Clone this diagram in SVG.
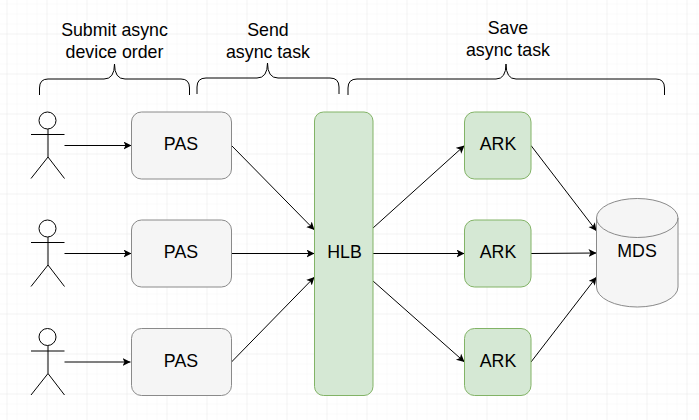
<svg xmlns="http://www.w3.org/2000/svg" width="699" height="420" viewBox="0 0 699 420">
<defs>
<pattern id="minor" width="10" height="10" patternUnits="userSpaceOnUse" x="6.5" y="3.5"><path d="M10 0H0V10" fill="none" stroke="#f6f6f6"/></pattern>
<pattern id="major" width="40" height="40" patternUnits="userSpaceOnUse" x="6.5" y="-6.5"><path d="M40 0H0V40" fill="none" stroke="#ebebeb"/></pattern>
<marker id="arr" markerWidth="10" markerHeight="10" refX="8" refY="4" orient="auto" markerUnits="userSpaceOnUse"><path d="M0 0L8 4L0 8L2 4Z" fill="#000"/></marker>
<g id="actor" fill="none" stroke="#000"><circle cx="47.5" cy="120.5" r="8.500" fill="#fff"/><path d="M48 129V157M31 134.500H64.500M31 178.500L48 157L64.500 178.500"/></g>
</defs>
<style>
.pas{fill:#f5f5f5;stroke:#8a8a8a;stroke-width:1}
.grn{fill:#d5e8d4;stroke:#82b366;stroke-width:1}
.c{fill:none;stroke:#000;stroke-width:1;marker-end:url(#arr)}
.b{fill:none;stroke:#000;stroke-width:1}
text{font-family:"Liberation Sans",Arial,sans-serif;font-size:17.800px;fill:#000;text-anchor:middle}
</style>
<rect width="699" height="420" fill="#fff"/>
<rect width="699" height="420" fill="url(#minor)"/>
<rect width="699" height="420" fill="url(#major)"/>
<g id="connectors">
<path class="c" d="M64.500 145.500H131.500"/>
<path class="c" d="M64.500 253.500H131.500"/>
<path class="c" d="M64.500 362H130.500"/>
<path class="c" d="M231.500 145.500L314.500 230"/>
<path class="c" d="M231.500 253.500H314.500"/>
<path class="c" d="M231.500 362L314.500 277"/>
<path class="c" d="M373 228L464.500 145.500"/>
<path class="c" d="M373 253.500H464.500"/>
<path class="c" d="M373 281L464.500 362"/>
<path class="c" d="M531 145.500L596.500 231"/>
<path class="c" d="M531 253.500L596.500 253"/>
<path class="c" d="M531 362L596.500 277"/>
</g>
<g id="brace1"><path class="b" d="M39.500 95V88Q39.500 79 48 79H104Q114.500 79 114.500 64Q114.500 79 125 79H181Q189.500 79 189.500 88V95"/></g>
<g id="brace2"><path class="b" d="M197 94V87Q197 78 206 78H257Q267.500 78 267.500 63Q267.500 78 278 78H330Q339 78 339 87V94"/></g>
<g id="brace3"><path class="b" d="M348 95V88Q348 79 357 79H496Q506 79 506 64Q506 79 516 79H656Q664.500 79 664.500 88V95"/></g>
<g id="label1"><text x="114.500" y="36">Submit async</text><text x="114.500" y="58">device order</text></g>
<g id="label2"><text x="268" y="36">Send</text><text x="268" y="58">async task</text></g>
<g id="label3"><text x="508" y="34">Save</text><text x="508" y="56">async task</text></g>
<g id="actor1"><use href="#actor"/></g>
<g id="actor2"><use href="#actor" y="108"/></g>
<g id="actor3"><use href="#actor" y="216.500"/></g>
<g id="pas1"><rect class="pas" x="131.500" y="112" width="100" height="67" rx="10"/><text x="181" y="150">PAS</text></g>
<g id="pas2"><rect class="pas" x="131.500" y="220" width="100" height="67" rx="10"/><text x="181" y="258">PAS</text></g>
<g id="pas3"><rect class="pas" x="131.500" y="328.500" width="100" height="67" rx="10"/><text x="181" y="367">PAS</text></g>
<g id="hlb"><rect class="grn" x="314.500" y="112" width="58.500" height="283.500" rx="9"/><text x="344.500" y="258">HLB</text></g>
<g id="ark1"><rect class="grn" x="464.500" y="112" width="66.500" height="67" rx="10"/><text x="498" y="150">ARK</text></g>
<g id="ark2"><rect class="grn" x="464.500" y="220" width="66.500" height="67" rx="10"/><text x="498" y="258">ARK</text></g>
<g id="ark3"><rect class="grn" x="464.500" y="328.500" width="66.500" height="67" rx="10"/><text x="498" y="367">ARK</text></g>
<g id="mds"><path class="pas" d="M596.500 218A40.750 19.500 0 0 1 678 218V287A40.750 20 0 0 1 596.500 287Z"/><path fill="none" stroke="#8a8a8a" d="M596.500 218A40.750 19.500 0 0 0 678 218"/><text x="637" y="257">MDS</text></g>
</svg>
